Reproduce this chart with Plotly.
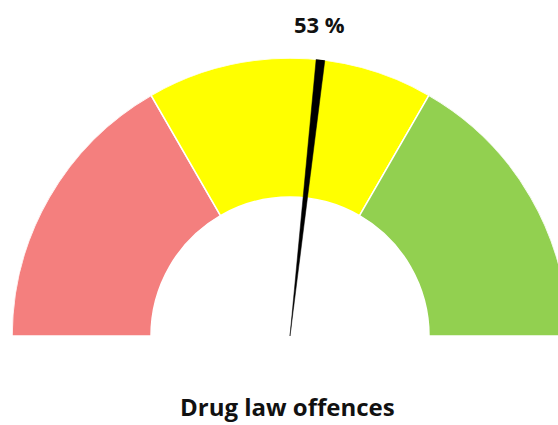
import math
import plotly.graph_objects as go

# Data
bands = ["Low", "Medium", "High"]
band_limits = [0, 33.333, 66.667, 100]          # percent scale boundaries
band_colors = ["#F47F7E", "#FFFF00", "#92D050"]
value = 53                                      # needle value (%)
needle_width = 1                                # needle wedge width (%)
title_text = "Drug law offences"

def pct_to_deg(p):
    return 180 - p * 1.8

W, H = 568, 425
# geometry of the polar subplot in pixels
X0, R_PX, CY = 12, 278, 336
fig = go.Figure()

centers = [pct_to_deg((band_limits[i] + band_limits[i + 1]) / 2) for i in range(len(bands))]
widths = [(band_limits[i + 1] - band_limits[i]) * 1.8 for i in range(len(bands))]
fig.add_trace(go.Barpolar(
    r=[0.5] * len(bands), base=[0.5] * len(bands),
    theta=centers, width=widths,
    marker=dict(color=band_colors, line=dict(color="white", width=1.5)),
    hoverinfo="skip", showlegend=False,
))

# needle wedge
needle_deg = pct_to_deg(value + needle_width / 2)
fig.add_trace(go.Barpolar(
    r=[1.0], base=[0], theta=[needle_deg],
    width=[needle_width * 1.8],
    marker=dict(color="black", line=dict(color="black", width=0.5)),
    hoverinfo="skip", showlegend=False,
))

# value label: above the needle tip (paper coords)
tip_x = X0 + R_PX + R_PX * math.cos(math.radians(needle_deg))
lab_x = (tip_x - 1) / W
lab_y = (H - 24) / H

fig.update_layout(
    width=W, height=H,
    margin=dict(l=0, r=0, t=0, b=0),
    paper_bgcolor="white",
    polar=dict(
        domain=dict(x=[X0 / W, (X0 + 2 * R_PX) / W], y=[(H - CY) / H, (H - CY + R_PX) / H]),
        sector=[0, 180],
        bgcolor="white",
        radialaxis=dict(visible=False, range=[0, 1]),
        angularaxis=dict(visible=False, thetaunit="degrees"),
        bargap=0,
    ),
    annotations=[
        dict(text=f"<b>{value} %</b>", x=lab_x, y=lab_y,
             xref="paper", yref="paper", showarrow=False,
             font=dict(family="Open Sans", size=22, color="#111111"),
             xanchor="center", yanchor="middle"),
        dict(text=f"<b>{title_text}</b>", x=287 / W, y=0,
             xref="paper", yref="paper", showarrow=False,
             font=dict(family="Open Sans", size=24, color="#111111"),
             xanchor="center", yanchor="bottom"),
    ],
)

fig.write_html("out.html", config={"displayModeBar": False},
               post_script="document.body.style.margin='0';document.body.style.overflow='hidden';")
